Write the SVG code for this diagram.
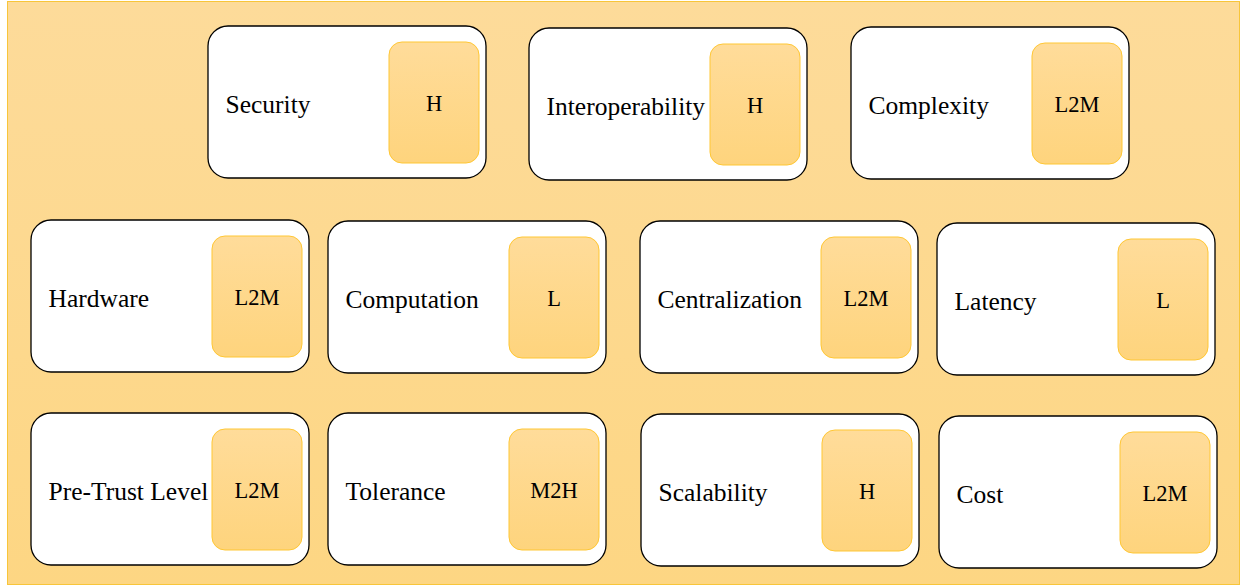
<svg xmlns="http://www.w3.org/2000/svg" width="1242" height="587" viewBox="0 0 1242 587">
  <defs>
    <linearGradient id="bgGrad" x1="0" y1="0" x2="0" y2="1">
      <stop offset="0" stop-color="#FDDB9A"/>
      <stop offset="1" stop-color="#FDD683"/>
    </linearGradient>
    <linearGradient id="badgeGrad" x1="0" y1="0" x2="0" y2="1">
      <stop offset="0" stop-color="#FFDC9A"/>
      <stop offset="1" stop-color="#FED47D"/>
    </linearGradient>
  </defs>
  <style>
    .bg { fill: url(#bgGrad); stroke: #F8C53A; stroke-width: 1; }
    .card { fill: #FFFFFF; stroke: #000000; stroke-width: 1.3; }
    .badge { fill: url(#badgeGrad); stroke: #FFC734; stroke-width: 1; }
    .label { font-size: 25.5px; fill: #000000; }
    .val { font-size: 22.5px; fill: #000000; text-anchor: middle; }
  </style>
  <rect class="bg" x="7.5" y="1.5" width="1232" height="583"/>

  <g id="security" transform="translate(208,26)" font-family="Liberation Serif">
    <rect class="card" x="0" y="0" width="278" height="152" rx="20" ry="20"/>
    <rect class="badge" x="181" y="16" width="90" height="121" rx="13" ry="13"/>
    <text class="label" font-family="Liberation Serif" x="17.5" y="86.5">Security</text>
    <text class="val" font-family="Liberation Serif" x="226" y="85">H</text>
  </g>
  <g id="interoperability" transform="translate(529,28)" font-family="Liberation Serif">
    <rect class="card" x="0" y="0" width="278" height="152" rx="20" ry="20"/>
    <rect class="badge" x="181" y="16" width="90" height="121" rx="13" ry="13"/>
    <text class="label" font-family="Liberation Serif" x="17.5" y="86.5">Interoperability</text>
    <text class="val" font-family="Liberation Serif" x="226" y="85">H</text>
  </g>
  <g id="complexity" transform="translate(851,27)" font-family="Liberation Serif">
    <rect class="card" x="0" y="0" width="278" height="152" rx="20" ry="20"/>
    <rect class="badge" x="181" y="16" width="90" height="121" rx="13" ry="13"/>
    <text class="label" font-family="Liberation Serif" x="17.5" y="86.5">Complexity</text>
    <text class="val" font-family="Liberation Serif" x="226" y="85">L2M</text>
  </g>

  <g id="hardware" transform="translate(31,220)" font-family="Liberation Serif">
    <rect class="card" x="0" y="0" width="278" height="152" rx="20" ry="20"/>
    <rect class="badge" x="181" y="16" width="90" height="121" rx="13" ry="13"/>
    <text class="label" font-family="Liberation Serif" x="17.5" y="86.5">Hardware</text>
    <text class="val" font-family="Liberation Serif" x="226" y="85">L2M</text>
  </g>
  <g id="computation" transform="translate(328,221)" font-family="Liberation Serif">
    <rect class="card" x="0" y="0" width="278" height="152" rx="20" ry="20"/>
    <rect class="badge" x="181" y="16" width="90" height="121" rx="13" ry="13"/>
    <text class="label" font-family="Liberation Serif" x="17.5" y="86.5">Computation</text>
    <text class="val" font-family="Liberation Serif" x="226" y="85">L</text>
  </g>
  <g id="centralization" transform="translate(640,221)" font-family="Liberation Serif">
    <rect class="card" x="0" y="0" width="278" height="152" rx="20" ry="20"/>
    <rect class="badge" x="181" y="16" width="90" height="121" rx="13" ry="13"/>
    <text class="label" font-family="Liberation Serif" x="17.5" y="86.5">Centralization</text>
    <text class="val" font-family="Liberation Serif" x="226" y="85">L2M</text>
  </g>
  <g id="latency" transform="translate(937,223)" font-family="Liberation Serif">
    <rect class="card" x="0" y="0" width="278" height="152" rx="20" ry="20"/>
    <rect class="badge" x="181" y="16" width="90" height="121" rx="13" ry="13"/>
    <text class="label" font-family="Liberation Serif" x="17.5" y="86.5">Latency</text>
    <text class="val" font-family="Liberation Serif" x="226" y="85">L</text>
  </g>

  <g id="pretrust" transform="translate(31,413)" font-family="Liberation Serif">
    <rect class="card" x="0" y="0" width="278" height="152" rx="20" ry="20"/>
    <rect class="badge" x="181" y="16" width="90" height="121" rx="13" ry="13"/>
    <text class="label" font-family="Liberation Serif" x="17.5" y="86.5">Pre-Trust Level</text>
    <text class="val" font-family="Liberation Serif" x="226" y="85">L2M</text>
  </g>
  <g id="tolerance" transform="translate(328,413)" font-family="Liberation Serif">
    <rect class="card" x="0" y="0" width="278" height="152" rx="20" ry="20"/>
    <rect class="badge" x="181" y="16" width="90" height="121" rx="13" ry="13"/>
    <text class="label" font-family="Liberation Serif" x="17.5" y="86.5">Tolerance</text>
    <text class="val" font-family="Liberation Serif" x="226" y="85">M2H</text>
  </g>
  <g id="scalability" transform="translate(641,414)" font-family="Liberation Serif">
    <rect class="card" x="0" y="0" width="278" height="152" rx="20" ry="20"/>
    <rect class="badge" x="181" y="16" width="90" height="121" rx="13" ry="13"/>
    <text class="label" font-family="Liberation Serif" x="17.5" y="86.5">Scalability</text>
    <text class="val" font-family="Liberation Serif" x="226" y="85">H</text>
  </g>
  <g id="cost" transform="translate(939,416)" font-family="Liberation Serif">
    <rect class="card" x="0" y="0" width="278" height="152" rx="20" ry="20"/>
    <rect class="badge" x="181" y="16" width="90" height="121" rx="13" ry="13"/>
    <text class="label" font-family="Liberation Serif" x="17.5" y="86.5">Cost</text>
    <text class="val" font-family="Liberation Serif" x="226" y="85">L2M</text>
  </g>

  <g id="connectors"></g>
</svg>
